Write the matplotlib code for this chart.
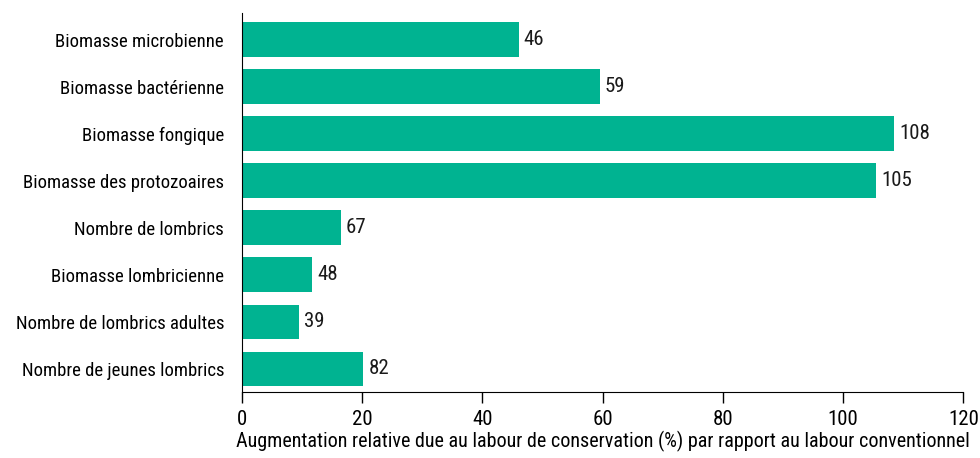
import matplotlib.pyplot as plt
from matplotlib import font_manager

categories = ['Biomasse microbienne', 'Biomasse bactérienne', 'Biomasse fongique',
              'Biomasse des protozoaires', 'Nombre de lombrics', 'Biomasse lombricienne',
              'Nombre de lombrics adultes', 'Nombre de jeunes lombrics']
# bar lengths as drawn in the picture
bar_values = [46, 59.5, 108.5, 105.5, 16.5, 11.7, 9.5, 20.2]
# numbers printed next to the bars
bar_labels = ['46', '59', '108', '105', '67', '48', '39', '82']

names = set(f.name for f in font_manager.fontManager.ttflist)
fams = [n for n in ['DejaVu Sans Condensed', 'Liberation Sans Narrow', 'Roboto Condensed', 'Roboto'] if n in names]
plt.rcParams['font.family'] = fams + ['DejaVu Sans']
plt.rcParams['text.color'] = '#1a1a1a'

fig = plt.figure(figsize=(9.8, 4.58), dpi=100)
ax = fig.add_axes([0.247, 0.144, 0.736, 0.828])

pos = list(range(len(categories)))
bars = ax.barh(pos, bar_values, height=0.74, color='#00b391')
for b, lab in zip(bars, bar_labels):
    ax.text(b.get_width() + 0.8, b.get_y() + b.get_height() / 2, lab,
            va='center', ha='left', fontsize=15)

ax.set_yticks(pos)
ax.set_yticklabels(categories, fontsize=13.5)
ax.set_ylim(7.49, -0.57)
ax.set_xlim(0, 120)
ax.set_xticks([0, 20, 40, 60, 80, 100, 120])
ax.tick_params(axis='x', labelsize=15, length=8, width=1, direction='out', pad=5)
ax.tick_params(axis='y', length=0, pad=13)
ax.spines['top'].set_visible(False)
ax.spines['right'].set_visible(False)
ax.set_xlabel('Augmentation relative due au labour de conservation (%) par rapport au labour conventionnel',
              fontsize=14.5, labelpad=1)

fig.savefig('out.png', dpi=100)
